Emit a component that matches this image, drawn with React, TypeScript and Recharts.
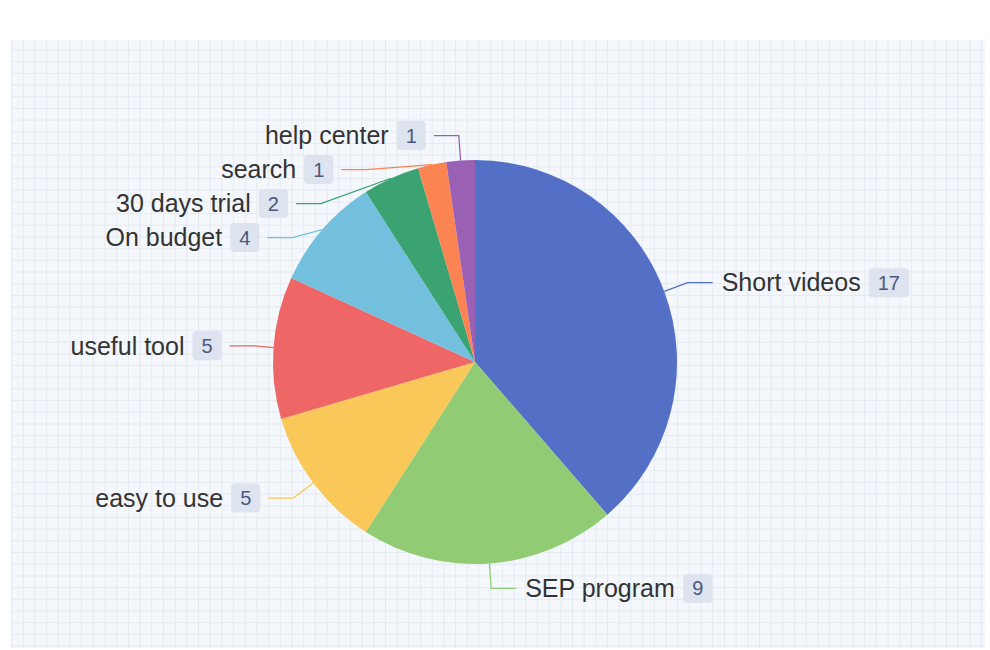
import { PieChart, Pie, Cell } from "recharts";

const categories = [
  "Short videos",
  "SEP program",
  "easy to use",
  "useful tool",
  "On budget",
  "30 days trial",
  "search",
  "help center",
];
const counts = [17, 9, 5, 5, 4, 2, 1, 1];
const colors = ["#5470c6", "#91cc75", "#fac858", "#ee6666", "#73c0de", "#3ba272", "#fc8452", "#9a60b4"];

const data = categories.map((name, i) => ({ name, value: counts[i] }));

const RAD = Math.PI / 180;
const LEN1 = 25; // radial part of the label line
const LEN2 = 25; // horizontal part
const ROW = 34; // min vertical gap between labels on one side
const RECALC_R = 221; // radius used on a side where labels had to move
const NAME_FONT = 25;
const NUM_FONT = 20;
const FONT = '"Liberation Sans", Arial, sans-serif';

let measureCtx: CanvasRenderingContext2D | null = null;
function textWidth(s: string, size: number) {
  if (!measureCtx) measureCtx = document.createElement("canvas").getContext("2d");
  if (!measureCtx) return s.length * size * 0.55;
  measureCtx.font = `${size}px ${FONT}`;
  return measureCtx.measureText(s).width;
}

// echarts-like label layout: push overlapping labels apart on each side
function layoutLabels(cx: number, cy: number, r: number) {
  const total = counts.reduce((a, b) => a + b, 0);
  let start = 90;
  const items = counts.map((v, i) => {
    const span = (v / total) * 360;
    const mid = start - span / 2;
    start -= span;
    const cos = Math.cos(-mid * RAD);
    const sin = Math.sin(-mid * RAD);
    return {
      i,
      right: cos >= 0,
      sx: cx + r * cos,
      sy: cy + r * sin,
      ex: cx + (r + LEN1) * cos,
      ey: cy + (r + LEN1) * sin,
    };
  });
  [true, false].forEach((side) => {
    const list = items.filter((it) => it.right === side).sort((a, b) => a.ey - b.ey);
    let prev = -Infinity;
    let moved = false;
    list.forEach((it) => {
      if (it.ey < prev + ROW) {
        it.ey = prev + ROW;
        moved = true;
      }
      prev = it.ey;
    });
    if (!moved) return;
    list.forEach((it) => {
      const dy = it.ey - cy;
      if (dy >= 0 || -dy >= RECALC_R) return;
      const dx = Math.sqrt(RECALC_R * RECALC_R - dy * dy);
      it.ex = side ? cx + dx : cx - dx;
    });
  });
  const out: typeof items = [];
  items.forEach((it) => (out[it.i] = it));
  return out;
}

// eslint-disable-next-line @typescript-eslint/no-explicit-any
function renderLabel(props: any) {
  const { cx, cy, outerRadius, index } = props;
  const lay = layoutLabels(cx, cy, outerRadius)[index];
  const name = categories[index];
  const num = String(counts[index]);
  const color = colors[index];
  const hx = lay.right ? lay.ex + LEN2 : lay.ex - LEN2;
  const boxW = textWidth(num, NUM_FONT) + 18;
  const boxH = 29;
  let nameX: number;
  let boxX: number;
  if (lay.right) {
    nameX = hx + 9;
    boxX = nameX + textWidth(name, NAME_FONT) + 8;
  } else {
    boxX = hx - 8 - boxW;
    nameX = boxX - 8;
  }
  const y = lay.ey;
  return (
    <g key={`lbl-${index}`}>
      <path
        d={`M${lay.sx},${lay.sy}L${lay.ex},${lay.ey}L${hx},${lay.ey}`}
        fill="none"
        stroke={color}
        strokeWidth={1.3}
      />
      <text
        x={nameX}
        y={y + NAME_FONT * 0.35}
        textAnchor={lay.right ? "start" : "end"}
        fontSize={NAME_FONT}
        fontFamily={FONT}
        fill="#333"
      >
        {name}
      </text>
      <rect x={boxX} y={y - boxH / 2} width={boxW} height={boxH} rx={4} fill="#dde4ef" />
      <text
        x={boxX + boxW / 2}
        y={y + NUM_FONT * 0.35}
        textAnchor="middle"
        fontSize={NUM_FONT}
        fontFamily={FONT}
        fill="#4b5882"
      >
        {num}
      </text>
    </g>
  );
}

export default function App() {
  return (
    <div style={{ position: "absolute", left: 0, top: 0, width: 990, height: 650, background: "#fff" }}>
      <div
        style={{
          position: "absolute",
          left: 11,
          top: 40,
          width: 974,
          height: 608,
          backgroundColor: "#f4f7fb",
          backgroundImage:
            "linear-gradient(#e5eaf1 1px, transparent 1px), linear-gradient(90deg, #e5eaf1 1px, transparent 1px)",
          backgroundSize: "11.7px 11.7px",
          backgroundPosition: "0px 9.5px",
        }}
      />
      <div style={{ position: "absolute", left: 0, top: 0 }}>
        <PieChart width={990} height={650} margin={{ top: 0, right: 0, bottom: 0, left: 0 }}>
          <Pie
            data={data}
            dataKey="value"
            nameKey="name"
            cx={475}
            cy={362}
            outerRadius={202}
            startAngle={90}
            endAngle={-270}
            stroke="none"
            label={renderLabel}
            labelLine={false}
            isAnimationActive={false}
          >
            {data.map((d, i) => (
              <Cell key={d.name} fill={colors[i]} />
            ))}
          </Pie>
        </PieChart>
      </div>
    </div>
  );
}
